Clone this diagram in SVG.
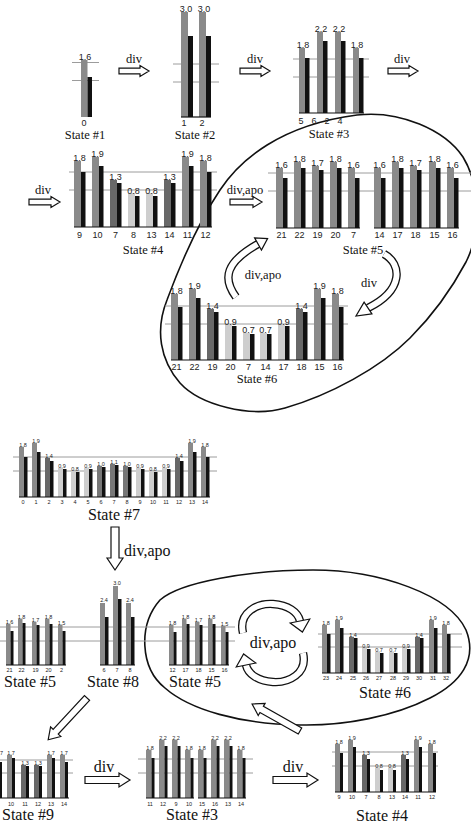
<svg xmlns="http://www.w3.org/2000/svg" width="471" height="828" viewBox="0 0 471 828">
<style>
.g1{fill:#8a8a8a}.g2{fill:#686868}.g3{fill:#cecece}.g4{fill:#777}.b{fill:#111}
.ref{stroke:#9c9c9c;stroke-width:1;fill:none}
.base{stroke:#111;stroke-width:1.2}
.v{font-family:"Liberation Sans",Arial,sans-serif;font-size:9px;text-anchor:middle;fill:#222}
.vs{font-family:"Liberation Sans",Arial,sans-serif;font-size:5.5px;text-anchor:middle;fill:#222}
.t{font-family:"Liberation Serif","Times New Roman",serif;font-size:12.5px;text-anchor:middle;fill:#111}
.tb{font-family:"Liberation Serif","Times New Roman",serif;font-size:16px;text-anchor:middle;fill:#111}
.ha{fill:#fff;stroke:#111;stroke-width:1.2}
.el{fill:none;stroke:#111;stroke-width:1.6}
.cb{fill:none;stroke:#111;stroke-width:8.4}
.cw{fill:none;stroke:#fff;stroke-width:5.8}
</style>

<g id="cycles">
<path class="el" d="M357,115 C400,110 445,130 463,157 C480,185 482,230 466,262 C450,292 430,318 410,338 C380,368 330,395 285,408 C250,418 200,405 180,383 C160,360 155,330 167,300 C180,265 200,220 220,190 C240,160 280,125 357,115 Z"/>
<path class="el" d="M313,570 C380,570 450,595 466,630 C478,660 460,683 430,698 C395,716 345,726 300,725 C240,724 190,710 165,688 C140,668 138,625 160,600 C180,582 250,570 313,570 Z"/>
</g>

<g id="state1">
<line class="ref" x1="72" y1="62.5" x2="99" y2="62.5"/><line class="ref" x1="72" y1="80.5" x2="99" y2="80.5"/>
<rect class="g1" x="81" y="60" width="6.5" height="57"/><rect class="b" x="87.5" y="77" width="4.5" height="40"/>
<text class="v" x="85" y="60">1.6</text>
<text class="v" x="84" y="126">0</text>
<text class="t" x="85" y="139">State #1</text>
</g>

<g id="state2">
<line class="ref" x1="173" y1="64" x2="219" y2="64"/><line class="ref" x1="173" y1="82" x2="219" y2="82"/>
<rect class="g1" x="181" y="12" width="7" height="105"/><rect class="b" x="188" y="36" width="5" height="81"/>
<rect class="g1" x="199" y="12" width="7" height="105"/><rect class="b" x="206" y="36" width="5" height="81"/>
<line class="base" x1="181" y1="117" x2="211" y2="117"/>
<text class="v" x="186" y="12">3.0</text><text class="v" x="204" y="12">3.0</text>
<text class="v" x="184" y="126">1</text><text class="v" x="202" y="126">2</text>
<text class="t" x="195" y="139">State #2</text>
</g>

<g id="state3">
<line class="ref" x1="293" y1="59" x2="369" y2="59"/><line class="ref" x1="293" y1="77" x2="369" y2="77"/>
<rect class="g1" x="299" y="48" width="6" height="65"/><rect class="b" x="305" y="58" width="4.5" height="55"/>
<rect class="g1" x="317" y="32" width="6" height="81"/><rect class="b" x="323" y="41" width="4.5" height="72"/>
<rect class="g1" x="335" y="32" width="6" height="81"/><rect class="b" x="341" y="41" width="4.5" height="72"/>
<rect class="g1" x="353" y="48" width="6" height="65"/><rect class="b" x="359" y="58" width="4.5" height="55"/>
<line class="base" x1="299" y1="113" x2="364" y2="113"/>
<text class="v" x="303" y="48">1.8</text><text class="v" x="321" y="32">2.2</text><text class="v" x="339" y="32">2.2</text><text class="v" x="357" y="48">1.8</text>
<text class="v" x="301" y="124">5</text><text class="v" x="314" y="124">6</text><text class="v" x="327" y="124">2</text><text class="v" x="340" y="124">4</text>
<text class="t" x="329" y="138">State #3</text>
</g>

<g id="state4">
<line class="ref" x1="69" y1="172" x2="217" y2="172"/><line class="ref" x1="69" y1="190" x2="217" y2="190"/>
<rect class="g1" x="74" y="161" width="7" height="66"/><rect class="b" x="81" y="172" width="4.5" height="55"/>
<rect class="g1" x="92" y="157" width="7" height="70"/><rect class="b" x="99" y="166" width="4.5" height="61"/>
<rect class="g2" x="110" y="180" width="7" height="47"/><rect class="b" x="117" y="183" width="4.5" height="44"/>
<rect class="g3" x="128" y="193" width="7" height="34"/><rect class="b" x="135" y="196" width="4.5" height="31"/>
<rect class="g3" x="146" y="193" width="7" height="34"/><rect class="b" x="153" y="196" width="4.5" height="31"/>
<rect class="g2" x="164" y="180" width="7" height="47"/><rect class="b" x="171" y="183" width="4.5" height="44"/>
<rect class="g1" x="182" y="157" width="7" height="70"/><rect class="b" x="189" y="166" width="4.5" height="61"/>
<rect class="g1" x="200" y="161" width="7" height="66"/><rect class="b" x="207" y="172" width="4.5" height="55"/>
<line class="base" x1="74" y1="227" x2="212" y2="227"/>
<text class="v" x="79.5" y="161">1.8</text><text class="v" x="97.5" y="157">1.9</text><text class="v" x="115.5" y="180">1.3</text><text class="v" x="133.5" y="194">0.8</text><text class="v" x="151.5" y="194">0.8</text><text class="v" x="169.5" y="180">1.3</text><text class="v" x="187.5" y="157">1.9</text><text class="v" x="205.5" y="161">1.8</text>
<text class="v" x="79.5" y="238">9</text><text class="v" x="97.5" y="238">10</text><text class="v" x="115.5" y="238">7</text><text class="v" x="133.5" y="238">8</text><text class="v" x="151.5" y="238">13</text><text class="v" x="169.5" y="238">14</text><text class="v" x="187.5" y="238">11</text><text class="v" x="205.5" y="238">12</text>
<text class="t" x="143" y="254">State #4</text>
</g>

<g id="state5a">
<line class="ref" x1="268" y1="173" x2="471" y2="173"/><line class="ref" x1="268" y1="191" x2="471" y2="191"/>
<rect class="g1" x="276" y="168" width="7" height="60"/><rect class="b" x="283" y="178" width="4.5" height="50"/>
<rect class="g1" x="294" y="162" width="7" height="66"/><rect class="b" x="301" y="168" width="4.5" height="60"/>
<rect class="g1" x="312" y="166" width="7" height="62"/><rect class="b" x="319" y="170" width="4.5" height="58"/>
<rect class="g1" x="330" y="162" width="7" height="66"/><rect class="b" x="337" y="168" width="4.5" height="60"/>
<rect class="g1" x="348" y="168" width="7" height="60"/><rect class="b" x="355" y="178" width="4.5" height="50"/>
<rect class="g1" x="374" y="168" width="7" height="60"/><rect class="b" x="381" y="178" width="4.5" height="50"/>
<rect class="g1" x="392" y="162" width="7" height="66"/><rect class="b" x="399" y="168" width="4.5" height="60"/>
<rect class="g1" x="410" y="166" width="7" height="62"/><rect class="b" x="417" y="170" width="4.5" height="58"/>
<rect class="g1" x="429" y="162" width="7" height="66"/><rect class="b" x="436" y="168" width="4.5" height="60"/>
<rect class="g1" x="447" y="168" width="7" height="60"/><rect class="b" x="454" y="178" width="4.5" height="50"/>
<line class="base" x1="276" y1="228" x2="360" y2="228"/><line class="base" x1="374" y1="228" x2="459" y2="228"/>
<text class="v" x="281.5" y="168">1.6</text><text class="v" x="299.5" y="162">1.8</text><text class="v" x="317.5" y="166">1.7</text><text class="v" x="335.5" y="162">1.8</text><text class="v" x="353.5" y="168">1.6</text>
<text class="v" x="379.5" y="168">1.6</text><text class="v" x="397.5" y="162">1.8</text><text class="v" x="415.5" y="166">1.7</text><text class="v" x="434.5" y="162">1.8</text><text class="v" x="452.5" y="168">1.6</text>
<text class="v" x="281.5" y="238">21</text><text class="v" x="299.5" y="238">22</text><text class="v" x="317.5" y="238">19</text><text class="v" x="335.5" y="238">20</text><text class="v" x="353.5" y="238">7</text>
<text class="v" x="379.5" y="238">14</text><text class="v" x="397.5" y="238">17</text><text class="v" x="415.5" y="238">18</text><text class="v" x="434.5" y="238">15</text><text class="v" x="452.5" y="238">16</text>
<text class="t" x="363" y="254">State #5</text>
</g>

<g id="state6a">
<line class="ref" x1="165" y1="306" x2="348" y2="306"/><line class="ref" x1="165" y1="324" x2="348" y2="324"/>
<rect class="g1" x="171" y="294" width="7" height="66"/><rect class="b" x="178" y="307" width="4.5" height="53"/>
<rect class="g1" x="189" y="289" width="7" height="71"/><rect class="b" x="196" y="298" width="4.5" height="62"/>
<rect class="g2" x="207" y="309" width="7" height="51"/><rect class="b" x="214" y="312" width="4.5" height="48"/>
<rect class="g3" x="225" y="325" width="7" height="35"/><rect class="b" x="232" y="326" width="4.5" height="34"/>
<rect class="g3" x="243" y="333" width="7" height="27"/><rect class="b" x="250" y="334" width="4.5" height="26"/>
<rect class="g3" x="260" y="333" width="7" height="27"/><rect class="b" x="267" y="334" width="4.5" height="26"/>
<rect class="g3" x="278" y="325" width="7" height="35"/><rect class="b" x="285" y="326" width="4.5" height="34"/>
<rect class="g2" x="296" y="309" width="7" height="51"/><rect class="b" x="303" y="312" width="4.5" height="48"/>
<rect class="g1" x="314" y="289" width="7" height="71"/><rect class="b" x="321" y="298" width="4.5" height="62"/>
<rect class="g1" x="332" y="294" width="7" height="66"/><rect class="b" x="339" y="307" width="4.5" height="53"/>
<line class="base" x1="171" y1="360" x2="344" y2="360"/>
<text class="v" x="176.5" y="294">1.8</text><text class="v" x="194.5" y="289">1.9</text><text class="v" x="212.5" y="309">1.4</text><text class="v" x="230.5" y="325">0.9</text><text class="v" x="248.5" y="333">0.7</text><text class="v" x="265.5" y="333">0.7</text><text class="v" x="283.5" y="325">0.9</text><text class="v" x="301.5" y="309">1.4</text><text class="v" x="319.5" y="289">1.9</text><text class="v" x="337.5" y="294">1.8</text>
<text class="v" x="176.5" y="370">21</text><text class="v" x="194.5" y="370">22</text><text class="v" x="212.5" y="370">19</text><text class="v" x="230.5" y="370">20</text><text class="v" x="248.5" y="370">7</text><text class="v" x="265.5" y="370">14</text><text class="v" x="283.5" y="370">17</text><text class="v" x="301.5" y="370">18</text><text class="v" x="319.5" y="370">15</text><text class="v" x="337.5" y="370">16</text>
<text class="t" x="257" y="383">State #6</text>
</g>

<g id="state7">
<line class="ref" x1="13" y1="457" x2="217" y2="457"/><line class="ref" x1="13" y1="471" x2="217" y2="471"/>
<rect class="g1" x="19" y="447" width="5" height="50"/><rect class="b" x="24" y="457" width="3.5" height="40"/>
<rect class="g1" x="32" y="443" width="5" height="54"/><rect class="b" x="37" y="452" width="3.5" height="45"/>
<rect class="g2" x="45" y="458" width="5" height="39"/><rect class="b" x="50" y="461" width="3.5" height="36"/>
<rect class="g3" x="58" y="468" width="5" height="29"/><rect class="b" x="63" y="469" width="3.5" height="28"/>
<rect class="g3" x="71" y="471" width="5" height="26"/><rect class="b" x="76" y="472" width="3.5" height="25"/>
<rect class="g3" x="84" y="468" width="5" height="29"/><rect class="b" x="89" y="469" width="3.5" height="28"/>
<rect class="g4" x="97" y="466" width="5" height="31"/><rect class="b" x="102" y="467" width="3.5" height="30"/>
<rect class="g4" x="110" y="464" width="5" height="33"/><rect class="b" x="115" y="465" width="3.5" height="32"/>
<rect class="g4" x="123" y="466" width="5" height="31"/><rect class="b" x="128" y="467" width="3.5" height="30"/>
<rect class="g3" x="136" y="468" width="5" height="29"/><rect class="b" x="141" y="469" width="3.5" height="28"/>
<rect class="g3" x="149" y="471" width="5" height="26"/><rect class="b" x="154" y="472" width="3.5" height="25"/>
<rect class="g3" x="162" y="468" width="5" height="29"/><rect class="b" x="167" y="469" width="3.5" height="28"/>
<rect class="g2" x="175" y="458" width="5" height="39"/><rect class="b" x="180" y="461" width="3.5" height="36"/>
<rect class="g1" x="188" y="443" width="5" height="54"/><rect class="b" x="193" y="452" width="3.5" height="45"/>
<rect class="g1" x="201" y="447" width="5" height="50"/><rect class="b" x="206" y="457" width="3.5" height="40"/>
<line class="base" x1="19" y1="497" x2="210" y2="497"/>
<text class="vs" x="23" y="447">1.8</text><text class="vs" x="36" y="443">1.9</text><text class="vs" x="49" y="458">1.4</text><text class="vs" x="62" y="468">0.9</text><text class="vs" x="75" y="471">0.8</text><text class="vs" x="88" y="468">0.9</text><text class="vs" x="101" y="466">1.0</text><text class="vs" x="114" y="464">1.1</text><text class="vs" x="127" y="466">1.0</text><text class="vs" x="140" y="468">0.9</text><text class="vs" x="153" y="471">0.8</text><text class="vs" x="166" y="468">0.9</text><text class="vs" x="179" y="458">1.4</text><text class="vs" x="192" y="443">1.9</text><text class="vs" x="205" y="447">1.8</text>
<text class="vs" x="23" y="504">0</text><text class="vs" x="36" y="504">1</text><text class="vs" x="49" y="504">2</text><text class="vs" x="62" y="504">3</text><text class="vs" x="75" y="504">4</text><text class="vs" x="88" y="504">5</text><text class="vs" x="101" y="504">6</text><text class="vs" x="114" y="504">7</text><text class="vs" x="127" y="504">8</text><text class="vs" x="140" y="504">9</text><text class="vs" x="153" y="504">10</text><text class="vs" x="166" y="504">11</text><text class="vs" x="179" y="504">12</text><text class="vs" x="192" y="504">13</text><text class="vs" x="205" y="504">14</text>
<text class="tb" x="114" y="520">State #7</text>
</g>

<g id="refLinesRow2">
<line class="ref" x1="0" y1="627" x2="235" y2="627"/><line class="ref" x1="0" y1="641" x2="235" y2="641"/>
</g>

<g id="state5b">
<rect class="g1" x="6" y="624" width="4.5" height="41"/><rect class="b" x="10.5" y="631" width="3" height="34"/>
<rect class="g1" x="18" y="619" width="4.5" height="46"/><rect class="b" x="22.5" y="623" width="3" height="42"/>
<rect class="g1" x="32" y="622" width="4.5" height="43"/><rect class="b" x="36.5" y="625" width="3" height="40"/>
<rect class="g1" x="45" y="619" width="4.5" height="46"/><rect class="b" x="49.5" y="624" width="3" height="41"/>
<rect class="g1" x="58" y="625" width="4.5" height="40"/><rect class="b" x="62.5" y="631" width="3" height="34"/>
<line class="base" x1="6" y1="665" x2="66" y2="665"/>
<text class="vs" x="9.5" y="624">1.6</text><text class="vs" x="21.5" y="619">1.8</text><text class="vs" x="35.5" y="622">1.7</text><text class="vs" x="48.5" y="619">1.8</text><text class="vs" x="61.5" y="625">1.5</text>
<text class="vs" x="9.5" y="672">21</text><text class="vs" x="21.5" y="672">22</text><text class="vs" x="35.5" y="672">19</text><text class="vs" x="48.5" y="672">20</text><text class="vs" x="61.5" y="672">2</text>
<text class="tb" x="30" y="687">State #5</text>
</g>

<g id="state8">
<rect class="g1" x="100" y="603" width="5" height="62"/><rect class="b" x="105" y="617" width="3.5" height="48"/>
<rect class="g1" x="113" y="586" width="5" height="79"/><rect class="b" x="118" y="599" width="3.5" height="66"/>
<rect class="g1" x="126" y="603" width="5" height="62"/><rect class="b" x="131" y="617" width="3.5" height="48"/>
<line class="base" x1="100" y1="665" x2="135" y2="665"/>
<text class="vs" x="104" y="602">2.4</text><text class="vs" x="117" y="585">3.0</text><text class="vs" x="130" y="602">2.4</text>
<text class="vs" x="104" y="672">6</text><text class="vs" x="117" y="672">7</text><text class="vs" x="130" y="672">8</text>
<text class="tb" x="113" y="687">State #8</text>
</g>

<g id="state5c">
<rect class="g1" x="169" y="625" width="4.5" height="40"/><rect class="b" x="173.5" y="632" width="3" height="33"/>
<rect class="g1" x="182" y="619" width="4.5" height="46"/><rect class="b" x="186.5" y="624" width="3" height="41"/>
<rect class="g1" x="195" y="622" width="4.5" height="43"/><rect class="b" x="199.5" y="625" width="3" height="40"/>
<rect class="g1" x="208" y="619" width="4.5" height="46"/><rect class="b" x="212.5" y="624" width="3" height="41"/>
<rect class="g1" x="221" y="626" width="4.5" height="39"/><rect class="b" x="225.5" y="632" width="3" height="33"/>
<line class="base" x1="169" y1="665" x2="229" y2="665"/>
<text class="vs" x="172.5" y="625">1.8</text><text class="vs" x="185.5" y="619">1.8</text><text class="vs" x="198.5" y="622">1.7</text><text class="vs" x="211.5" y="619">1.8</text><text class="vs" x="224.5" y="626">1.5</text>
<text class="vs" x="172.5" y="672">12</text><text class="vs" x="185.5" y="672">17</text><text class="vs" x="198.5" y="672">18</text><text class="vs" x="211.5" y="672">15</text><text class="vs" x="224.5" y="672">16</text>
<text class="tb" x="195" y="687">State #5</text>
</g>

<g id="state6b">
<line class="ref" x1="318" y1="634" x2="462" y2="634"/><line class="ref" x1="318" y1="647" x2="462" y2="647"/>
<rect class="g1" x="322" y="625" width="5" height="48"/><rect class="b" x="327" y="634" width="3.5" height="39"/>
<rect class="g1" x="335" y="620" width="5" height="53"/><rect class="b" x="340" y="628" width="3.5" height="45"/>
<rect class="g2" x="349" y="637" width="5" height="36"/><rect class="b" x="354" y="638" width="3.5" height="35"/>
<rect class="g3" x="362" y="648" width="5" height="25"/><rect class="b" x="367" y="649" width="3.5" height="24"/>
<rect class="g3" x="375" y="652" width="5" height="21"/><rect class="b" x="380" y="653" width="3.5" height="20"/>
<rect class="g3" x="389" y="652" width="5" height="21"/><rect class="b" x="394" y="653" width="3.5" height="20"/>
<rect class="g3" x="402" y="648" width="5" height="25"/><rect class="b" x="407" y="649" width="3.5" height="24"/>
<rect class="g2" x="415" y="637" width="5" height="36"/><rect class="b" x="420" y="638" width="3.5" height="35"/>
<rect class="g1" x="429" y="620" width="5" height="53"/><rect class="b" x="434" y="628" width="3.5" height="45"/>
<rect class="g1" x="442" y="625" width="5" height="48"/><rect class="b" x="447" y="634" width="3.5" height="39"/>
<line class="base" x1="322" y1="673" x2="451" y2="673"/>
<text class="vs" x="326" y="625">1.8</text><text class="vs" x="339" y="620">1.9</text><text class="vs" x="353" y="637">1.4</text><text class="vs" x="366" y="648">0.9</text><text class="vs" x="379" y="652">0.7</text><text class="vs" x="393" y="652">0.7</text><text class="vs" x="406" y="648">0.9</text><text class="vs" x="419" y="637">1.4</text><text class="vs" x="433" y="620">1.9</text><text class="vs" x="446" y="625">1.8</text>
<text class="vs" x="326" y="680">23</text><text class="vs" x="339" y="680">24</text><text class="vs" x="353" y="680">25</text><text class="vs" x="366" y="680">26</text><text class="vs" x="379" y="680">27</text><text class="vs" x="393" y="680">28</text><text class="vs" x="406" y="680">29</text><text class="vs" x="419" y="680">30</text><text class="vs" x="433" y="680">31</text><text class="vs" x="446" y="680">32</text>
<text class="tb" x="385" y="698">State #6</text>
</g>

<g id="state9">
<line class="ref" x1="0" y1="760" x2="73" y2="760"/><line class="ref" x1="0" y1="773" x2="73" y2="773"/>
<rect class="g1" x="-6" y="755" width="5" height="43"/><rect class="b" x="-1" y="762" width="3" height="36"/>
<rect class="g1" x="7" y="755" width="5" height="43"/><rect class="b" x="12" y="758" width="3" height="40"/>
<rect class="g2" x="21" y="765" width="5" height="33"/><rect class="b" x="26" y="766" width="3" height="32"/>
<rect class="g2" x="34" y="765" width="5" height="33"/><rect class="b" x="39" y="766" width="3" height="32"/>
<rect class="g1" x="47" y="755" width="5" height="43"/><rect class="b" x="52" y="758" width="3" height="40"/>
<rect class="g1" x="60" y="755" width="5" height="43"/><rect class="b" x="65" y="762" width="3" height="36"/>
<line class="base" x1="0" y1="798" x2="69" y2="798"/>
<text class="vs" x="1.5" y="755">7</text><text class="vs" x="11" y="755">1.7</text><text class="vs" x="25" y="765">1.3</text><text class="vs" x="38" y="765">1.3</text><text class="vs" x="51" y="755">1.7</text><text class="vs" x="64" y="755">1.7</text>
<text class="vs" x="11" y="806">10</text><text class="vs" x="25" y="806">11</text><text class="vs" x="38" y="806">12</text><text class="vs" x="51" y="806">13</text><text class="vs" x="64" y="806">14</text>
<text class="tb" x="28" y="820">State #9</text>
</g>

<g id="state3b">
<line class="ref" x1="138" y1="759" x2="253" y2="759"/><line class="ref" x1="138" y1="773" x2="253" y2="773"/>
<rect class="g1" x="146" y="750" width="5.5" height="48"/><rect class="b" x="151.5" y="758" width="3" height="40"/>
<rect class="g1" x="159" y="740" width="5.5" height="58"/><rect class="b" x="164.5" y="746" width="3" height="52"/>
<rect class="g1" x="172" y="740" width="5.5" height="58"/><rect class="b" x="177.5" y="746" width="3" height="52"/>
<rect class="g1" x="185" y="750" width="5.5" height="48"/><rect class="b" x="190.5" y="758" width="3" height="40"/>
<rect class="g1" x="198" y="750" width="5.5" height="48"/><rect class="b" x="203.5" y="758" width="3" height="40"/>
<rect class="g1" x="211" y="740" width="5.5" height="58"/><rect class="b" x="216.5" y="746" width="3" height="52"/>
<rect class="g1" x="224" y="740" width="5.5" height="58"/><rect class="b" x="229.5" y="746" width="3" height="52"/>
<rect class="g1" x="237" y="750" width="5.5" height="48"/><rect class="b" x="242.5" y="758" width="3" height="40"/>
<line class="base" x1="146" y1="798" x2="194" y2="798"/><line class="base" x1="198" y1="798" x2="246" y2="798"/>
<text class="vs" x="150" y="750">1.8</text><text class="vs" x="163" y="740">2.2</text><text class="vs" x="176" y="740">2.2</text><text class="vs" x="189" y="750">1.8</text><text class="vs" x="202" y="750">1.8</text><text class="vs" x="215" y="740">2.2</text><text class="vs" x="228" y="740">2.2</text><text class="vs" x="241" y="750">1.8</text>
<text class="vs" x="150" y="806">11</text><text class="vs" x="163" y="806">12</text><text class="vs" x="176" y="806">9</text><text class="vs" x="189" y="806">10</text><text class="vs" x="202" y="806">15</text><text class="vs" x="215" y="806">16</text><text class="vs" x="228" y="806">13</text><text class="vs" x="241" y="806">14</text>
<text class="tb" x="192" y="820">State #3</text>
</g>

<g id="state4b">
<line class="ref" x1="332" y1="752" x2="438" y2="752"/><line class="ref" x1="332" y1="766" x2="438" y2="766"/>
<rect class="g1" x="335" y="744" width="5" height="48"/><rect class="b" x="340" y="753" width="3" height="39"/>
<rect class="g1" x="348" y="740" width="5" height="52"/><rect class="b" x="353" y="747" width="3" height="45"/>
<rect class="g2" x="362" y="755" width="5" height="37"/><rect class="b" x="367" y="759" width="3" height="33"/>
<rect class="g3" x="375" y="768" width="5" height="24"/><rect class="b" x="380" y="770" width="3" height="22"/>
<rect class="g3" x="388" y="768" width="5" height="24"/><rect class="b" x="393" y="770" width="3" height="22"/>
<rect class="g2" x="401" y="755" width="5" height="37"/><rect class="b" x="406" y="759" width="3" height="33"/>
<rect class="g1" x="414" y="740" width="5" height="52"/><rect class="b" x="419" y="747" width="3" height="45"/>
<rect class="g1" x="428" y="744" width="5" height="48"/><rect class="b" x="433" y="753" width="3" height="39"/>
<line class="base" x1="335" y1="792" x2="436" y2="792"/>
<text class="vs" x="339" y="744">1.8</text><text class="vs" x="352" y="740">1.9</text><text class="vs" x="366" y="755">1.3</text><text class="vs" x="379" y="768">0.8</text><text class="vs" x="392" y="768">0.8</text><text class="vs" x="405" y="755">1.3</text><text class="vs" x="418" y="740">1.9</text><text class="vs" x="432" y="744">1.8</text>
<text class="vs" x="339" y="799">9</text><text class="vs" x="352" y="799">10</text><text class="vs" x="366" y="799">7</text><text class="vs" x="379" y="799">8</text><text class="vs" x="392" y="799">13</text><text class="vs" x="405" y="799">14</text><text class="vs" x="418" y="799">11</text><text class="vs" x="432" y="799">12</text>
<text class="tb" x="382" y="821">State #4</text>
</g>

<g id="connectors">
<path class="ha" d="M119,68.2 H140 V65.5 L149,71 L140,76.5 V73.8 H119 Z"/>
<text class="t" x="134" y="63">div</text>
<path class="ha" d="M240,68.2 H261 V65.5 L270,71 L261,76.5 V73.8 H240 Z"/>
<text class="t" x="255" y="63">div</text>
<path class="ha" d="M388,68.2 H409 V65.5 L418,71 L409,76.5 V73.8 H388 Z"/>
<text class="t" x="402" y="63">div</text>
<path class="ha" d="M29,199.2 H51 V196.5 L60,202 L51,207.5 V204.8 H29 Z"/>
<text class="t" x="43" y="194">div</text>
<path class="ha" d="M230,199.2 H253 V196.5 L262,202 L253,207.5 V204.8 H230 Z"/>
<text class="t" x="245" y="194">div,apo</text>

<path class="cb" d="M236,297 C222,278 226,262 258,244"/>
<path class="cw" d="M236,297 C222,278 226,262 258,244"/>
<path class="ha" d="M261.4,250.1 L267.6,238.6 L254.6,237.9 Z"/>
<text class="t" x="263" y="279">div,apo</text>
<path class="cb" d="M384,254 C402,264 404,290 368,308"/>
<path class="cw" d="M384,254 C402,264 404,290 368,308"/>
<path class="ha" d="M371.9,313.8 L356,316 L364.1,302.2 Z"/>
<text class="t" x="369" y="287">div</text>

<path class="ha" d="M111,527 V558 H107 L115,570 L123,558 H119 V527 Z"/>
<text class="tb" x="124" y="556" style="text-anchor:start">div,apo</text>

<path class="cb" d="M243,633 C238,612 258,603 273,604 C288,605 298,612 300,621"/>
<path class="cw" d="M243,633 C238,612 258,603 273,604 C288,605 298,612 300,621"/>
<path class="ha" d="M309.8,619 L302.4,632 L290.2,623 Z"/>
<path class="cb" d="M303,653 C308,674 288,683 273,682 C258,681 248,674 246,665"/>
<path class="cw" d="M303,653 C308,674 288,683 273,682 C258,681 248,674 246,665"/>
<path class="ha" d="M236.2,667 L243.6,654 L255.8,663 Z"/>
<text class="tb" x="273" y="648">div,apo</text>

<path class="ha" transform="translate(87,698) rotate(132.9)" d="M0,-3.5 H46 V-7 L57,0 L46,7 V3.5 H0 Z"/>
<path class="ha" transform="translate(300,731) rotate(-150.6)" d="M0,-3.5 H44 V-7 L55,0 L44,7 V3.5 H0 Z"/>

<path class="ha" d="M85,776.5 H119 V773 L130,780 L119,787 V783.5 H85 Z"/>
<text class="tb" x="104" y="772">div</text>
<path class="ha" d="M273,776.5 H307 V773 L318,780 L307,787 V783.5 H273 Z"/>
<text class="tb" x="293" y="772">div</text>
</g>
</svg>
